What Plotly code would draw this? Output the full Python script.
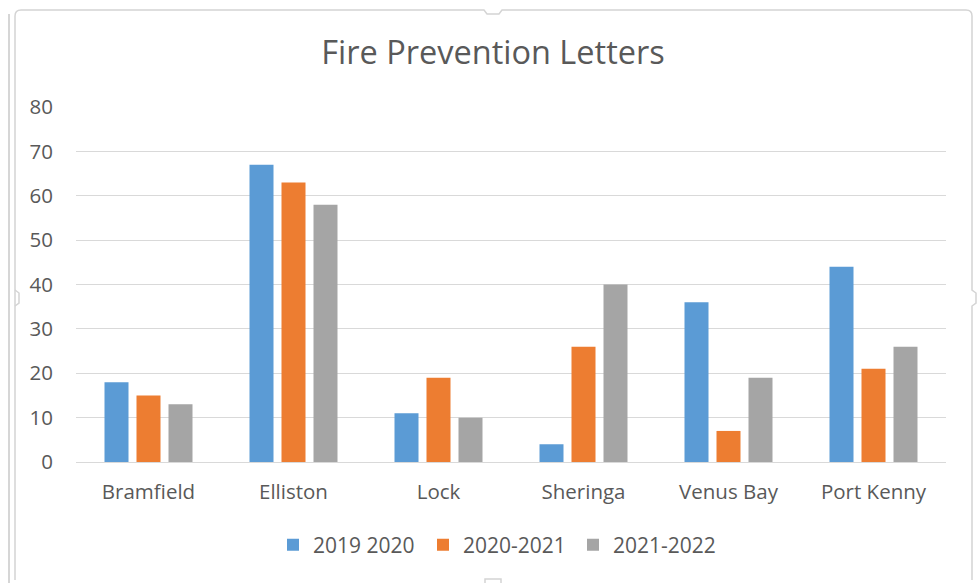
import plotly.graph_objects as go

# Fire prevention letters sent per locality, by season
categories = ["Bramfield", "Elliston", "Lock", "Sheringa", "Venus Bay", "Port Kenny"]
season_labels = ["2019 2020", "2020-2021", "2021-2022"]
letters_2019_2020 = [18, 67, 11, 4, 36, 44]
letters_2020_2021 = [15, 63, 19, 26, 7, 21]
letters_2021_2022 = [13, 58, 10, 40, 19, 26]
y_ticks = [0, 10, 20, 30, 40, 50, 60, 70, 80]

series_values = [letters_2019_2020, letters_2020_2021, letters_2021_2022]
colors = ["#5B9BD5", "#ED7D31", "#A5A5A5"]

FONT = "Open Sans"
TEXT = "#595959"

W, H = 979, 583
L, R, T, B = 76, 33, 107, 121
PW, PH = W - L - R, H - T - B


def px(x):
    return (x - L) / PW


def py(y):
    return (H - B - y) / PH


fig = go.Figure()
for name, vals, col in zip(season_labels, series_values, colors):
    fig.add_trace(go.Bar(
        x=categories, y=vals, name=name,
        marker=dict(color=col, line=dict(width=0)),
    ))

# chart frame with resize handles
line_col = "#D4D4D4"
shapes = [
    dict(type="path", xref="paper", yref="paper",
         path=(f"M {px(15)} {py(580)} L {px(15)} {py(16)} Q {px(15)} {py(10)} {px(21)} {py(10)} "
               f"L {px(484)} {py(10)} L {px(487)} {py(14)} L {px(499)} {py(14)} L {px(502)} {py(10)} "
               f"L {px(966)} {py(10)} Q {px(972)} {py(10)} {px(972)} {py(16)} "
               f"L {px(972)} {py(290)} L {px(976)} {py(293)} L {px(976)} {py(303)} L {px(972)} {py(306)} "
               f"L {px(972)} {py(580)}"),
         line=dict(color=line_col, width=1.5)),
    dict(type="line", xref="paper", yref="paper",
         x0=px(9), x1=px(9), y0=py(14), y1=py(583),
         line=dict(color="#C8C8C8", width=1.5)),
    dict(type="path", xref="paper", yref="paper",
         path=(f"M {px(15)} {py(290)} L {px(19)} {py(293)} L {px(19)} {py(303)} L {px(15)} {py(306)}"),
         line=dict(color=line_col, width=1.5)),
    dict(type="rect", xref="paper", yref="paper",
         x0=px(485), x1=px(501), y0=py(579), y1=py(586),
         line=dict(color=line_col, width=1.5), fillcolor="white"),
]

fig.update_layout(
    width=W, height=H,
    margin=dict(l=L, r=R, t=T, b=B, pad=0),
    paper_bgcolor="white", plot_bgcolor="white",
    barmode="group", bargap=0.338, bargroupgap=0.25,
    title=dict(text="Fire Prevention Letters", xref="paper", x=px(493), xanchor="center",
               y=1 - 53 / H, yanchor="middle",
               font=dict(family=FONT, size=32.5, color=TEXT)),
    font=dict(family=FONT, size=20.5, color=TEXT),
    xaxis=dict(showgrid=False, showline=True, linecolor="#D9D9D9", linewidth=1,
               ticks="", tickfont=dict(size=20.5, color=TEXT), ticklabelstandoff=11),
    yaxis=dict(range=[0, 80], tickvals=y_ticks, showgrid=True, gridcolor="#D9D9D9",
               gridwidth=1, zeroline=False, showline=False, ticks="",
               tickfont=dict(size=20.5, color=TEXT), ticklabelstandoff=22),
    legend=dict(orientation="h", x=px(273), xanchor="left", y=py(545), yanchor="middle",
                font=dict(size=21, color=TEXT), itemwidth=30, entrywidth=105,
                traceorder="normal"),
    shapes=shapes,
    showlegend=True,
)

fig.write_html("out.html")
